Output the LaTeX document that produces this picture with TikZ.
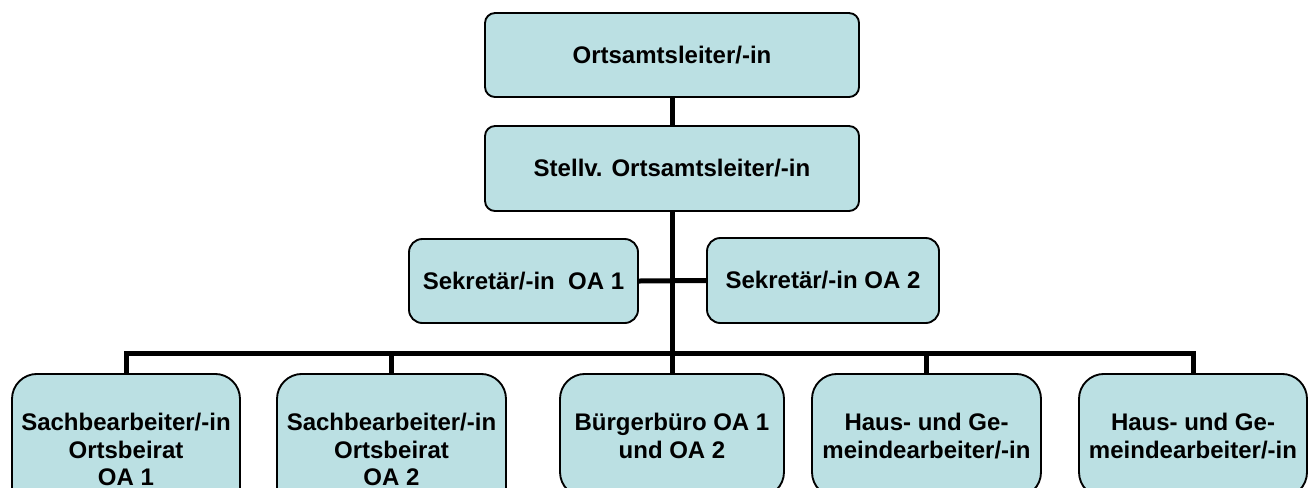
\documentclass[tikz,border=0pt]{standalone}
\usepackage{fontspec}
\setmainfont{Liberation Sans}
\usetikzlibrary{backgrounds}
\definecolor{boxfill}{RGB}{187,224,227}
\tikzset{
  boxbase/.style={draw=black, line width=1.4pt, fill=boxfill, inner sep=0pt,
    font=\fontsize{18pt}{20.6pt}\selectfont\bfseries},
  box/.style={boxbase, align=center},
  bot/.style={boxbase, anchor=north, rounded corners=18.75pt, inner xsep=0pt, inner ysep=28.75pt},
  wire/.style={line width=3.75pt, line join=miter},
}
\newcommand{\toptext}[1]{\parbox[t]{160pt}{\centering\rule{0pt}{14pt}#1}}
\begin{document}
\begin{tikzpicture}[x=0.75pt,y=-0.75pt]
\useasboundingbox (0,0) rectangle (1313,487);
\clip (0,0) rectangle (1313,487);
\node[box, rounded corners=7.5pt, minimum width=280.5pt, minimum height=63pt] (head) at (672,55) {Ortsamtsleiter/-in};
\node[box, rounded corners=7.5pt, minimum width=280.5pt, minimum height=63.75pt] (dep) at (672,168.5) {Stellv. Ortsamtsleiter/-in};
\node[box, rounded corners=10pt, minimum width=171.75pt, minimum height=63pt] (secA) at (523.5,281) {Sekretär/-in\ \ OA 1};
\node[box, rounded corners=10pt, minimum width=174pt, minimum height=63.75pt] (secB) at (823,280.5) {Sekretär/-in OA 2};
\node[bot, minimum width=171pt] (b1) at (126,373) {\toptext{Sachbearbeiter/-in\\Ortsbeirat\\OA 1}};
\node[bot, minimum width=171.75pt] (b2) at (391.5,373) {\toptext{Sachbearbeiter/-in\\Ortsbeirat\\OA 2}};
\node[bot, minimum width=168pt] (b3) at (672,373) {\toptext{Bürgerbüro OA 1\\und OA 2}};
\node[bot, minimum width=171.75pt] (b4) at (926.5,373) {\toptext{Haus- und Ge-\\meindearbeiter/-in}};
\node[bot, minimum width=171pt] (b5) at (1193,373) {\toptext{Haus- und Ge-\\meindearbeiter/-in}};
\coordinate (busy) at (0,353);
\begin{scope}[on background layer]
\draw[wire] (head.south) -- (dep.north);
\draw[wire] (dep.south) -- (b3.north);
\draw[wire] (secA.east) -- (secB.west);
\draw[wire] (b1.north) -- (b1.north |- busy) -- (b5.north |- busy) -- (b5.north);
\draw[wire] (b2.north) -- (b2.north |- busy);
\draw[wire] (b4.north) -- (b4.north |- busy);
\end{scope}
\end{tikzpicture}
\end{document}
